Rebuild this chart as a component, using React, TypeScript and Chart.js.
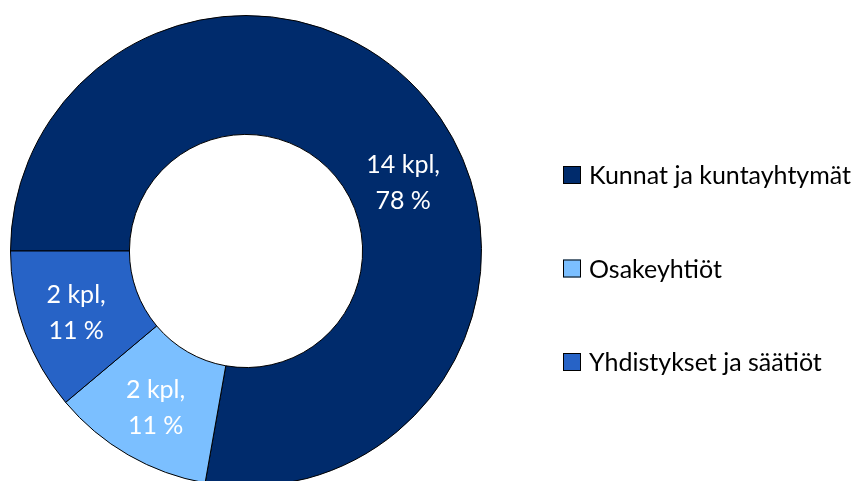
import React, { useEffect, useRef } from "react";
import { Chart, registerables } from "chart.js";

Chart.register(...registerables);

const categories = ["Kunnat ja kuntayhtymät", "Osakeyhtiöt", "Yhdistykset ja säätiöt"];
const counts = [14, 2, 2];
const percents = [78, 11, 11];
const colors = ["#002B6C", "#7BBFFF", "#2763C6"];

const FONT = "Lato, 'Open Sans', sans-serif";

const sliceLabelPlugin = {
  id: "sliceLabels",
  afterDatasetsDraw(chart: any, _args: any, opts: any) {
    const ctx = chart.ctx;
    const meta = chart.getDatasetMeta(0);
    ctx.save();
    ctx.fillStyle = "#ffffff";
    ctx.font = `${opts.fontSize}px ${FONT}`;
    ctx.textAlign = "center";
    ctx.textBaseline = "middle";
    meta.data.forEach((arc: any, i: number) => {
      const p = arc.getProps(["x", "y", "startAngle", "endAngle", "innerRadius", "outerRadius"], true);
      const shift = ((opts.angleShift?.[i] ?? 0) * Math.PI) / 180;
      const frac = opts.radiusFrac?.[i] ?? 0.5;
      const a = (p.startAngle + p.endAngle) / 2 + shift;
      const r = p.innerRadius + (p.outerRadius - p.innerRadius) * frac;
      const cx = p.x + Math.cos(a) * r;
      const cy = p.y + Math.sin(a) * r;
      const lines = [`${counts[i]} kpl,`, `${percents[i]} %`];
      lines.forEach((t, k) => {
        ctx.fillText(t, cx, cy + (k - (lines.length - 1) / 2) * opts.lineHeight);
      });
    });
    ctx.restore();
  },
};

const legendPlugin = {
  id: "sideLegend",
  afterDraw(chart: any, _args: any, opts: any) {
    const ctx = chart.ctx;
    const ds = chart.data.datasets[0];
    ctx.save();
    ctx.font = `${opts.fontSize}px ${FONT}`;
    ctx.textAlign = "left";
    ctx.textBaseline = "middle";
    (chart.data.labels as string[]).forEach((label: string, i: number) => {
      const y = opts.y + i * opts.spacing;
      const s = opts.box;
      ctx.fillStyle = ds.backgroundColor[i];
      ctx.fillRect(opts.x, y - s / 2, s, s);
      ctx.strokeStyle = "#000000";
      ctx.lineWidth = 1;
      ctx.strokeRect(opts.x + 0.5, y - s / 2 + 0.5, s - 1, s - 1);
      ctx.fillStyle = "#000000";
      ctx.fillText(label, opts.x + s + 8, y + 1);
    });
    ctx.restore();
  },
};

export default function App() {
  const ref = useRef<HTMLCanvasElement | null>(null);
  useEffect(() => {
    if (!ref.current) return;
    const chart = new Chart(ref.current, {
      type: "doughnut",
      data: {
        labels: categories,
        datasets: [
          {
            data: counts,
            backgroundColor: colors,
            borderColor: "#000000",
            borderWidth: 1,
          },
        ],
      },
      options: {
        animation: false,
        responsive: false,
        devicePixelRatio: 1,
        cutout: "49.5%",
        rotation: -90,
        layout: { padding: { left: 10, top: 15, right: 381, bottom: 13 } },
        plugins: {
          legend: { display: false },
          tooltip: { enabled: false },
          sliceLabels: {
            fontSize: 25,
            lineHeight: 36,
            angleShift: [16.6, 0, 0],
            radiusFrac: [0.46, 0.54, 0.54],
          },
          sideLegend: { x: 563, y: 175, spacing: 93.5, box: 18, fontSize: 25 },
        } as any,
      },
      plugins: [sliceLabelPlugin, legendPlugin],
    });
    return () => chart.destroy();
  }, []);
  return (
    <div style={{ position: "absolute", left: 0, top: 0, width: 863, height: 481, overflow: "hidden", background: "#fff" }}>
      <canvas ref={ref} width={863} height={500} style={{ display: "block" }} />
    </div>
  );
}
